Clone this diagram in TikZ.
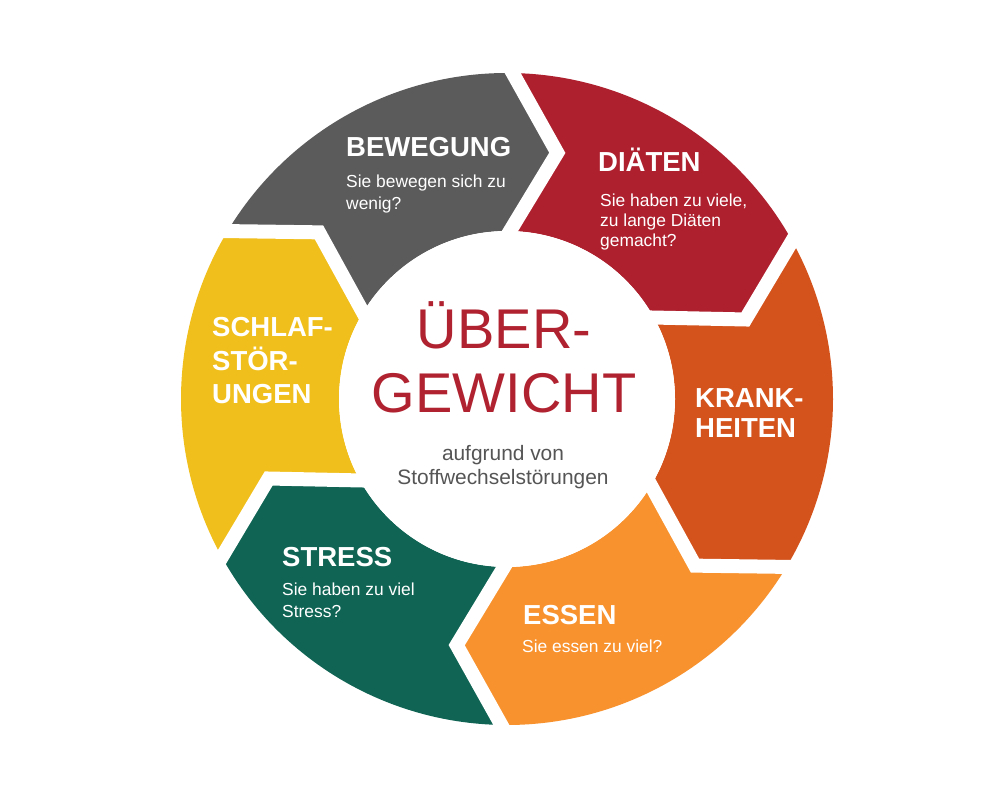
\documentclass[tikz,border=0pt]{standalone}
\usepackage{fontspec}
\setmainfont{Liberation Sans}
\usetikzlibrary{calc}
\definecolor{cGray}{HTML}{5B5B5B}
\definecolor{cRed}{HTML}{AE202E}
\definecolor{cKrank}{HTML}{D4531D}
\definecolor{cEssen}{HTML}{F8922E}
\definecolor{cStress}{HTML}{0F6454}
\definecolor{cYellow}{HTML}{F1BF1B}
\definecolor{cCenter}{HTML}{B0222F}
\definecolor{cSubtext}{HTML}{555555}
\begin{document}
\begin{tikzpicture}[x=1pt,y=1pt,
  title/.style={text=white, font=\fontsize{27.5}{30}\selectfont\bfseries, anchor=base west, inner sep=0pt},
  sub/.style={text=white, font=\fontsize{17.4}{20}\selectfont, anchor=base west, inner sep=0pt},
  bigtext/.style={text=cCenter, font=\fontsize{56}{60}\selectfont, anchor=base, inner sep=0pt},
  smalltext/.style={text=cSubtext, font=\fontsize{20.9}{24}\selectfont, anchor=base, inner sep=0pt},
  gap/.style={draw=white, line width=14pt, line join=miter}]
\useasboundingbox (0,0) rectangle (1000,800);
\fill[white] (0,0) rectangle (1000,800);
\coordinate (C) at (507,401);
\def\segRo{326}
\def\segRi{168}
\def\segRm{247}
\def\segHh{46}
\def\segDl{-1}
\foreach \k in {0,...,5} {
  \pgfmathsetmacro\ang{90-60*\k+\segDl}
  \pgfmathsetmacro\angt{\ang-90}
  \coordinate (o\k) at ($(C)+(\ang:\segRo)$);
  \coordinate (i\k) at ($(C)+(\ang:\segRi)$);
  \coordinate (t\k) at ($(C)+(\ang:\segRm)+(\angt:\segHh)$);
}
\foreach \k/\col in {0/cRed,1/cKrank,2/cEssen,3/cStress,4/cYellow,5/cGray} {
  \pgfmathsetmacro\ang{90-60*\k+\segDl}
  \pgfmathsetmacro\angn{\ang-60}
  \pgfmathtruncatemacro\nx{mod(\k+1,6)}
  \fill[\col] (o\k) arc[start angle=\ang, end angle=\angn, radius=\segRo]
    -- (t\nx) -- (i\nx) arc[start angle=\angn, end angle=\ang, radius=\segRi]
    -- (t\k) -- cycle;
}
\foreach \k in {0,...,5} {
  \draw[gap] ($(t\k)!1.3!(o\k)$) -- (t\k) -- ($(t\k)!1.3!(i\k)$);
}
\fill[white] (C) circle[radius=\segRi];
% titles and texts
\node[title] (bewT) at (346,643) {BEWEGUNG};
\node[sub] (bew1) at (346,612) {Sie bewegen sich zu};
\node[sub] (bew2) at (346,590) {wenig?};
\node[title] (diaT) at (598,628) {DIÄTEN};
\node[sub] (dia1) at (600,593) {Sie haben zu viele,};
\node[sub] (dia2) at (600,573) {zu lange Diäten};
\node[sub] (dia3) at (600,553) {gemacht?};
\node[title] (kra1) at (695,392) {KRANK-};
\node[title] (kra2) at (695,362) {HEITEN};
\node[title] (essT) at (523,175) {ESSEN};
\node[sub] (ess1) at (522,147) {Sie essen zu viel?};
\node[title] (strT) at (282,233) {STRESS};
\node[sub] (str1) at (282,204) {Sie haben zu viel};
\node[sub] (str2) at (282,182) {Stress?};
\node[title] (sch1) at (212,463) {SCHLAF-};
\node[title] (sch2) at (212,429.5) {STÖR-};
\node[title] (sch3) at (212,396) {UNGEN};
\node[bigtext] (ctr1) at (504,451) {ÜBER-};
\node[bigtext] (ctr2) at (504,387) {GEWICHT};
\node[smalltext] (ctr3) at (503,339) {aufgrund von};
\node[smalltext] (ctr4) at (503,315) {Stoffwechselstörungen};
\end{tikzpicture}
\end{document}
